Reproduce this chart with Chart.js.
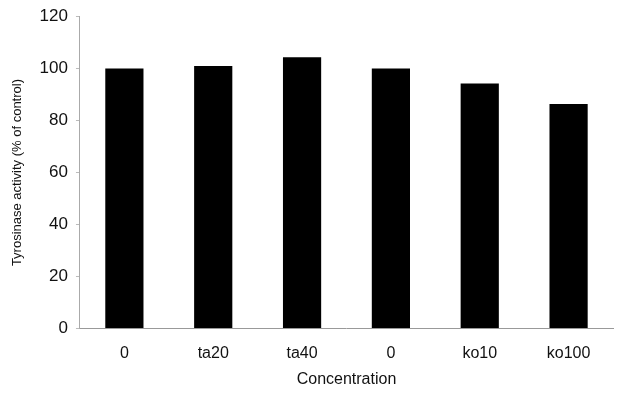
<!DOCTYPE html>
<html>
<head>
<meta charset="utf-8">
<script src="https://cdn.jsdelivr.net/npm/chart.js@4/dist/chart.umd.min.js"></script>
<style>
  html, body { margin: 0; padding: 0; background: #fff; }
  #wrap { width: 627px; height: 401px; }
</style>
</head>
<body>
<div id="wrap"><canvas id="myChart"></canvas></div>
<script>
// valores
const labels = ["0", "ta20", "ta40", "0", "ko10", "ko100"];
const actividad = [100, 101, 104.3, 100, 94.2, 86.4];
const yTicks = [0, 20, 40, 60, 80, 100, 120];

const ctx = document.getElementById("myChart");

new Chart(ctx, {
  type: "bar",
  data: {
    labels: labels,
    datasets: [
      {
        label: "Tyrosinase activity",
        data: actividad,
        backgroundColor: "#000",
        barPercentage: 0.43,
        categoryPercentage: 1,
      },
    ],
  },
  options: {
    responsive: true,
    maintainAspectRatio: false,
    animation: false,
    layout: { padding: { top: 2, right: 14, bottom: 12, left: 10 } },
    plugins: {
      legend: { display: false },
      tooltip: { enabled: false },
    },
    scales: {
      x: {
        grid: { display: false },
        border: { color: "#999", width: 1 },
        ticks: {
          color: "#111",
          font: { family: "Liberation Sans, Arial", size: 16 },
          padding: 7,
        },
        title: {
          display: true,
          text: "Concentration",
          color: "#111",
          font: { family: "Liberation Sans, Arial", size: 16 },
          padding: { top: 0, bottom: 0 },
        },
      },
      y: {
        min: 0,
        max: 120,
        afterBuildTicks: (axis) => {
          axis.ticks = yTicks.map((v) => ({ value: v }));
        },
        grid: {
          display: true,
          drawOnChartArea: false,
          drawTicks: true,
          tickLength: 4,
          color: "#bbb",
        },
        border: { color: "#aaa", width: 1, dash: [2, 1] },
        ticks: {
          color: "#111",
          font: { family: "Liberation Sans, Arial", size: 17, lineHeight: 1 },
          padding: 8,
        },
        title: {
          display: true,
          text: "Tyrosinase activity (% of control)",
          color: "#111",
          font: { family: "Liberation Sans, Arial", size: 13 },
          padding: { top: 0, bottom: 6 },
        },
      },
    },
  },
});
</script>
</body>
</html>
